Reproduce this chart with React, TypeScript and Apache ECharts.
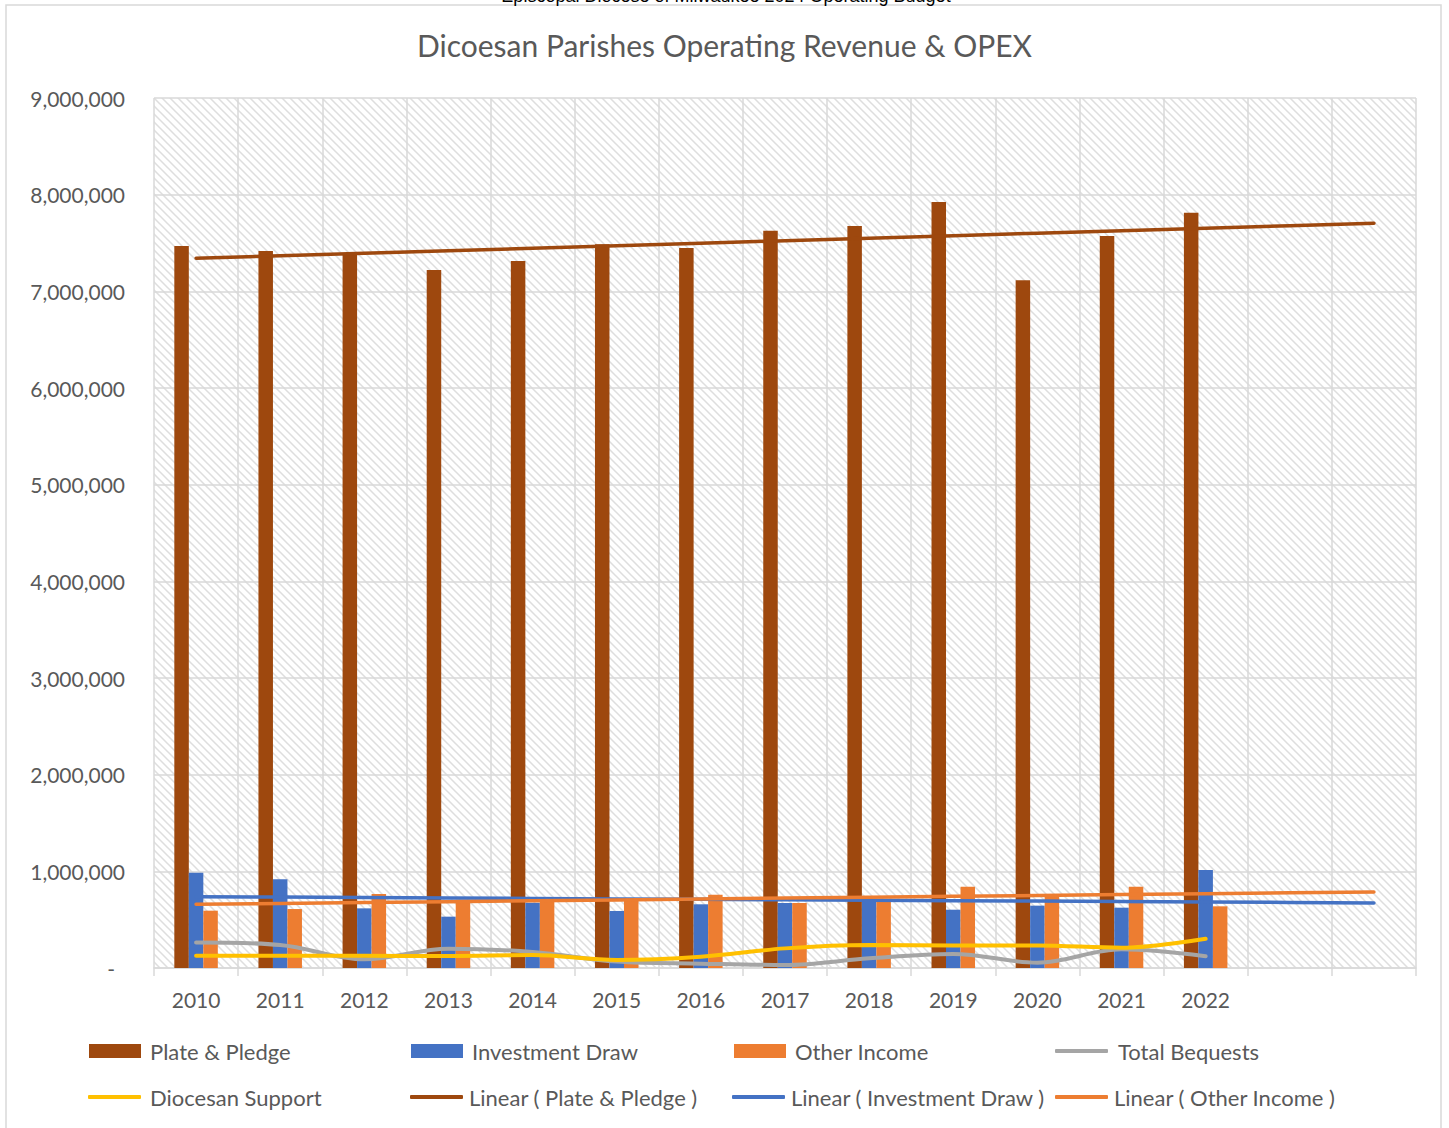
import React, { useEffect, useRef } from "react";
import * as echarts from "echarts";

// ---- Data ----
const years = ["2010", "2011", "2012", "2013", "2014", "2015", "2016", "2017", "2018", "2019", "2020", "2021", "2022"];
const forecastSlots = ["", ""]; // Excel trendlines forecast two periods forward
const yTickValues = [0, 1000000, 2000000, 3000000, 4000000, 5000000, 6000000, 7000000, 8000000, 9000000];

const platePledge = [7469000, 7417000, 7386000, 7220000, 7314000, 7486000, 7448000, 7627000, 7676000, 7924000, 7114000, 7572000, 7813000];
const investmentDraw = [986000, 917000, 617000, 531000, 676000, 590000, 659000, 672000, 700000, 603000, 645000, 624000, 1014000];
const otherIncome = [593000, 610000, 766000, 705000, 710000, 715000, 758000, 672000, 686000, 841000, 745000, 841000, 638000];
const totalBequests = [265000, 238000, 90000, 200000, 166000, 66000, 45000, 31000, 100000, 145000, 55000, 193000, 121000];
const diocesanSupport = [127000, 127000, 126000, 125000, 134000, 83000, 117000, 203000, 238000, 234000, 234000, 210000, 303000];

const COLORS = {
  plate: "#9E480E",
  invest: "#4472C4",
  other: "#ED7D31",
  bequests: "#A5A5A5",
  support: "#FFC000",
};

const FONT = "Lato, 'Noto Sans', sans-serif";

// least-squares linear trendline (as Excel does), extended over `n` slots
function linearTrend(values: number[], n: number): number[] {
  const m = values.length;
  const xs = values.map((_, i) => i + 1);
  const mx = xs.reduce((a, b) => a + b, 0) / m;
  const my = values.reduce((a, b) => a + b, 0) / m;
  let num = 0;
  let den = 0;
  for (let i = 0; i < m; i++) {
    num += (xs[i] - mx) * (values[i] - my);
    den += (xs[i] - mx) * (xs[i] - mx);
  }
  const slope = num / den;
  const out: number[] = [];
  for (let i = 1; i <= n; i++) out.push(my + slope * (i - mx));
  return out;
}

export default function App() {
  const ref = useRef<HTMLDivElement>(null);

  useEffect(() => {
    if (!ref.current) return;
    const chart = echarts.init(ref.current, null, { renderer: "svg" });
    const categories = [...years, ...forecastSlots];
    const nSlots = categories.length;

    const hatchSvg =
      "<svg xmlns='http://www.w3.org/2000/svg' width='8' height='8'>" +
      "<rect width='8' height='8' fill='#ffffff'/>" +
      "<path d='M-1,-1 L9,9 M-1,7 L1,9 M7,-1 L9,1' stroke='#dedede' stroke-width='1.5'/></svg>";
    const hatchUrl = "data:image/svg+xml;charset=utf-8," + encodeURIComponent(hatchSvg);

    const row1 = 1040;
    const row2 = 1086;
    const legendBase = {
      selectedMode: false,
      itemGap: 0,
      padding: 0,
      textStyle: { fontFamily: FONT, fontSize: 22, color: "#595959" },
    };
    const barLegend = (name: string, left: number, top: number, gap: number) => ({
      ...legendBase,
      data: [name],
      left,
      top,
      icon: "rect",
      itemWidth: 52,
      itemHeight: 14,
      textStyle: { ...legendBase.textStyle, padding: [0, 0, 0, gap] },
    });
    const lineLegend = (name: string, left: number, top: number, gap: number) => ({
      ...legendBase,
      data: [name],
      left,
      top,
      icon: "roundRect",
      itemWidth: 53,
      itemHeight: 4,
      textStyle: { ...legendBase.textStyle, padding: [0, 0, 0, gap] },
    });

    const option: any = {
      animation: false,
      backgroundColor: "#ffffff",
      title: {
        text: "Dicoesan Parishes Operating Revenue & OPEX",
        left: "center",
        top: 30,
        padding: 0,
        textStyle: { fontFamily: FONT, fontSize: 30, fontWeight: "normal", color: "#595959" },
      },
      graphic: [
        {
          type: "rect",
          shape: { x: 6, y: 5, width: 1435, height: 1200 },
          style: { fill: "none", stroke: "#d9d9d9", lineWidth: 1.5 },
          silent: true,
        },
        {
          type: "text",
          x: 726,
          y: 5,
          style: {
            text: "Episcopal Diocese of Milwaukee 2024 Operating Budget",
            font: "18px 'Liberation Sans', Arial, sans-serif",
            fill: "#000000",
            align: "center",
            verticalAlign: "bottom",
          },
          silent: true,
        },
      ],
      legend: [
        barLegend("Plate & Pledge", 89, row1, 4),
        barLegend("Investment Draw", 411, row1, 4),
        barLegend("Other Income", 734, row1, 4),
        lineLegend("Total Bequests", 1055, row1, 5),
        lineLegend("Diocesan Support", 88, row2, 4),
        lineLegend("Linear ( Plate & Pledge )", 410, row2, 1),
        lineLegend("Linear ( Investment Draw )", 732, row2, 1),
        lineLegend("Linear ( Other Income )", 1055, row2, 1),
      ],
      grid: {
        left: 154,
        right: 33,
        top: 98,
        bottom: 160,
        show: true,
        borderWidth: 0,
        backgroundColor: { image: hatchUrl, repeat: "repeat", imageWidth: 8, imageHeight: 8 },
      },
      xAxis: {
        type: "category",
        data: categories,
        boundaryGap: true,
        axisLine: { show: true, lineStyle: { color: "#d9d9d9", width: 1.5 } },
        axisTick: { show: true, length: 8, interval: 0, lineStyle: { color: "#d9d9d9", width: 1.5 } },
        splitLine: { show: true, interval: 0, lineStyle: { color: "#d9d9d9", width: 1.5 } },
        axisLabel: { interval: 0, margin: 21, fontFamily: FONT, fontSize: 21, color: "#595959" },
      },
      yAxis: {
        type: "value",
        min: yTickValues[0],
        max: yTickValues[yTickValues.length - 1],
        interval: yTickValues[1] - yTickValues[0],
        axisLine: { show: false },
        axisTick: { show: false },
        splitLine: { show: true, lineStyle: { color: "#d9d9d9", width: 1.5 } },
        axisLabel: {
          margin: 29,
          fontFamily: FONT,
          fontSize: 21,
          color: "#595959",
          formatter: (v: number) => (v === 0 ? "{z|-}" : v.toLocaleString("en-US")),
          rich: { z: { fontFamily: FONT, fontSize: 21, color: "#595959", padding: [0, 10, 0, 0] } },
        },
      },
      series: [
        {
          name: "Plate & Pledge",
          type: "bar",
          data: platePledge,
          color: COLORS.plate,
          barWidth: 14.5,
          barGap: "0%",
          z: 2,
        },
        {
          name: "Investment Draw",
          type: "bar",
          data: investmentDraw,
          color: COLORS.invest,
          barWidth: 14.5,
          barGap: "0%",
          z: 2,
        },
        {
          name: "Other Income",
          type: "bar",
          data: otherIncome,
          color: COLORS.other,
          barWidth: 14.5,
          barGap: "0%",
          z: 2,
        },
        {
          name: "Total Bequests",
          type: "line",
          data: totalBequests,
          color: COLORS.bequests,
          smooth: 0.35,
          showSymbol: false,
          symbol: "none",
          lineStyle: { width: 4, color: COLORS.bequests, cap: "round" },
          z: 4,
        },
        {
          name: "Diocesan Support",
          type: "line",
          data: diocesanSupport,
          color: COLORS.support,
          smooth: 0.35,
          showSymbol: false,
          symbol: "none",
          lineStyle: { width: 4, color: COLORS.support, cap: "round" },
          z: 4,
        },
        {
          name: "Linear ( Plate & Pledge )",
          type: "line",
          data: linearTrend(platePledge, nSlots),
          color: COLORS.plate,
          showSymbol: false,
          symbol: "none",
          lineStyle: { width: 3.5, color: COLORS.plate, cap: "round" },
          z: 5,
        },
        {
          name: "Linear ( Investment Draw )",
          type: "line",
          data: linearTrend(investmentDraw, nSlots),
          color: COLORS.invest,
          showSymbol: false,
          symbol: "none",
          lineStyle: { width: 3.5, color: COLORS.invest, cap: "round" },
          z: 5,
        },
        {
          name: "Linear ( Other Income )",
          type: "line",
          data: linearTrend(otherIncome, nSlots),
          color: COLORS.other,
          showSymbol: false,
          symbol: "none",
          lineStyle: { width: 3.5, color: COLORS.other, cap: "round" },
          z: 5,
        },
      ],
    };

    chart.setOption(option);
    return () => chart.dispose();
  }, []);

  return (
    <div
      ref={ref}
      style={{ position: "absolute", left: 0, top: 0, width: 1449, height: 1128, background: "#ffffff" }}
    />
  );
}
